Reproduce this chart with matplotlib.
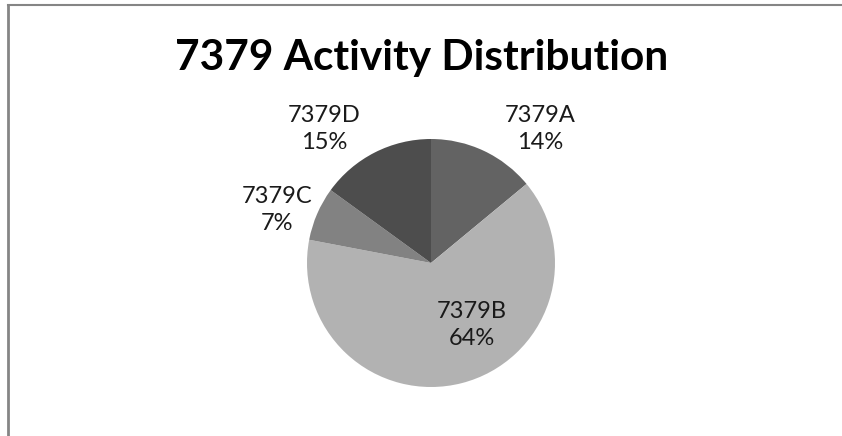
import matplotlib
matplotlib.use("Agg")
import matplotlib.pyplot as plt
from matplotlib.lines import Line2D

categories = ["7379A", "7379B", "7379C", "7379D"]
shares = [14, 64, 7, 15]
colors = ["#636363", "#b2b2b2", "#828282", "#4d4d4d"]

W, H = 842, 436
fig = plt.figure(figsize=(W / 100, H / 100), dpi=100)
fig.patch.set_facecolor("white")

cx, cy, r = 431, 263, 124
ax = fig.add_axes([(cx - r) / W, (H - cy - r) / H, 2 * r / W, 2 * r / H])
ax.pie(shares, colors=colors, startangle=90, counterclock=False,
       wedgeprops=dict(linewidth=0), radius=1.0)
ax.set_xlim(-1, 1)
ax.set_ylim(-1, 1)
ax.set_aspect("equal")
ax.axis("off")

# label positions in pixels (centre of text block)
label_px = [(540, 129), (472, 325), (277, 210), (324, 129)]
for name, v, (lx, ly) in zip(categories, shares, label_px):
    fig.text(lx / W, 1 - ly / H, f"{name}\n{v}%", ha="center", va="center",
             fontsize=17, family="Lato", color="#1a1a1a", linespacing=1.4)

fig.text(422 / W, 1 - 58 / H, "7379 Activity Distribution", ha="center", va="center",
         fontsize=30.5, fontweight="bold", family="Lato", color="black")

fig.add_artist(Line2D([8 / W, 8 / W], [0, 1 - 5 / H], transform=fig.transFigure,
                      color="#858585", linewidth=2))
fig.add_artist(Line2D([8 / W, 1], [1 - 5 / H, 1 - 5 / H], transform=fig.transFigure,
                      color="#858585", linewidth=1.5))

fig.savefig("out.png", dpi=100)
